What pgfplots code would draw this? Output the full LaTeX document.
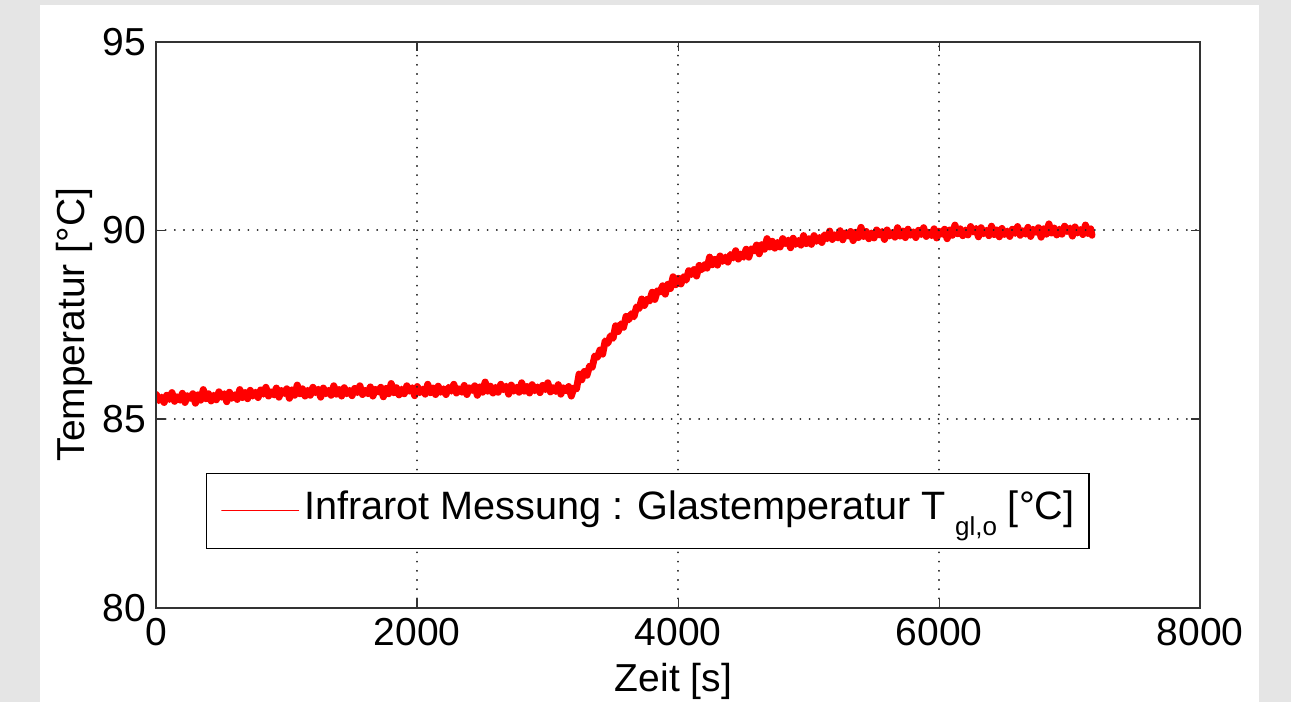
\documentclass[border=0pt]{standalone}
\usepackage{fontspec}
\setmainfont{Liberation Sans}
\usepackage{pgfplots}
\pgfplotsset{compat=1.18}
\definecolor{bggray}{RGB}{229,229,229}
\newcommand{\fs}{\fontsize{19.5}{23}\selectfont}

\begin{document}
\begin{tikzpicture}
% figure background (grey frame, white figure area)
\fill[bggray] (-78.15pt,-47.15pt) rectangle (567.35pt,303.85pt);
\fill[white] (-58.15pt,-47.15pt) rectangle (551.35pt,301.35pt);
\begin{axis}[
  at={(0pt,0pt)}, anchor=south west,
  scale only axis, width=522pt, height=283pt,
  xmin=0, xmax=8000, ymin=80, ymax=95,
  xtick={0,2000,4000,6000,8000},
  ytick={80,85,90,95},
  scaled x ticks=false,
  /pgf/number format/1000 sep={},
  /pgf/number format/assume math mode=true,
  tick label style={font=\fs},
  xticklabel style={inner sep=0pt, yshift=-5pt},
  yticklabel style={inner sep=0pt, xshift=-4.9pt},
  xmajorgrids, ymajorgrids,
  grid style={black!85, line width=0.9pt, line cap=round, dash pattern=on 0.1pt off 4.5pt},
  axis on top,
  axis line style={black!80, line width=1.1pt},
  tick style={black!80, line width=0.8pt},
  tick align=inside, major tick length=4.5pt,
  xlabel={Zeit [s]}, ylabel={Temperatur [°C]},
  label style={font=\fs},
  xlabel style={at={(axis description cs:0.4954,-0.1472)}, anchor=base, inner sep=0pt},
  ylabel style={at={(axis description cs:-0.0683,0.5)}, anchor=base, inner sep=0pt},
  legend style={at={(0.4708,0.1712)}, anchor=center, draw=black, line width=0.7pt,
    fill=white, inner xsep=7.2pt, inner ysep=0pt,
    font=\fontsize{19.8}{23}\selectfont, column sep=2.5pt,
    nodes={inner sep=0pt, text height=23.35pt, text depth=14.15pt}},
  legend image code/.code={\draw[draw=red, line width=0.7pt] (0pt,0pt) -- (38.3pt,0pt);},
]
% infrared measurement, sampled every 20 s
\addplot[red, line width=3.5pt, line join=round, line cap=round] table {
t T
0 85.65
20 85.49
40 85.58
60 85.44
80 85.63
100 85.52
120 85.70
140 85.47
160 85.59
180 85.50
200 85.68
220 85.44
240 85.62
260 85.55
280 85.67
300 85.42
320 85.64
340 85.50
360 85.78
380 85.54
400 85.67
420 85.48
440 85.63
460 85.51
480 85.72
500 85.58
520 85.67
540 85.46
560 85.71
580 85.55
600 85.64
620 85.52
640 85.78
660 85.57
680 85.70
700 85.54
720 85.76
740 85.61
760 85.71
780 85.57
800 85.77
820 85.66
840 85.84
860 85.61
880 85.72
900 85.64
920 85.82
940 85.58
960 85.76
980 85.68
1000 85.80
1020 85.55
1040 85.77
1060 85.63
1080 85.90
1100 85.67
1120 85.80
1140 85.61
1160 85.76
1180 85.63
1200 85.84
1220 85.70
1240 85.79
1260 85.58
1280 85.82
1300 85.67
1320 85.76
1340 85.63
1360 85.88
1380 85.66
1400 85.78
1420 85.61
1440 85.83
1460 85.67
1480 85.76
1500 85.62
1520 85.81
1540 85.70
1560 85.88
1580 85.65
1600 85.76
1620 85.67
1640 85.85
1660 85.61
1680 85.79
1700 85.72
1720 85.84
1740 85.59
1760 85.81
1780 85.67
1800 85.94
1820 85.70
1840 85.83
1860 85.64
1880 85.79
1900 85.67
1920 85.88
1940 85.74
1960 85.83
1980 85.62
2000 85.86
2020 85.70
2040 85.79
2060 85.66
2080 85.92
2100 85.70
2120 85.82
2140 85.65
2160 85.87
2180 85.71
2200 85.80
2220 85.65
2240 85.84
2260 85.74
2280 85.92
2300 85.69
2320 85.80
2340 85.71
2360 85.89
2380 85.65
2400 85.83
2420 85.76
2440 85.88
2460 85.63
2480 85.85
2500 85.71
2520 85.98
2540 85.74
2560 85.87
2580 85.69
2600 85.84
2620 85.71
2640 85.92
2660 85.78
2680 85.87
2700 85.66
2720 85.90
2740 85.74
2760 85.84
2780 85.71
2800 85.96
2820 85.74
2840 85.86
2860 85.69
2880 85.91
2900 85.75
2920 85.85
2940 85.70
2960 85.89
2980 85.78
3000 85.96
3020 85.72
3040 85.83
3060 85.73
3080 85.91
3100 85.66
3120 85.83
3140 85.75
3160 85.86
3180 85.61
3200 85.82
3220 85.80
3240 86.19
3260 86.04
3280 86.26
3300 86.16
3320 86.40
3340 86.37
3360 86.67
3380 86.64
3400 86.83
3420 86.72
3440 87.07
3460 87.01
3480 87.20
3500 87.14
3520 87.47
3540 87.32
3560 87.52
3580 87.43
3600 87.72
3620 87.63
3640 87.79
3660 87.71
3680 87.97
3700 87.93
3720 88.18
3740 88.01
3760 88.17
3780 88.13
3800 88.36
3820 88.17
3840 88.40
3860 88.37
3880 88.53
3900 88.31
3920 88.57
3940 88.46
3960 88.77
3980 88.56
4000 88.73
4020 88.58
4040 88.77
4060 88.68
4080 88.93
4100 88.83
4120 88.96
4140 88.79
4160 89.07
4180 88.96
4200 89.09
4220 89.00
4240 89.29
4260 89.09
4280 89.23
4300 89.08
4320 89.32
4340 89.18
4360 89.29
4380 89.16
4400 89.36
4420 89.27
4440 89.46
4460 89.24
4480 89.37
4500 89.29
4520 89.50
4540 89.29
4560 89.51
4580 89.46
4600 89.61
4620 89.38
4640 89.62
4660 89.50
4680 89.78
4700 89.56
4720 89.71
4740 89.53
4760 89.68
4780 89.56
4800 89.78
4820 89.65
4840 89.74
4860 89.54
4880 89.79
4900 89.63
4920 89.73
4940 89.61
4960 89.86
4980 89.65
5000 89.78
5020 89.63
5040 89.86
5060 89.71
5080 89.81
5100 89.68
5120 89.88
5140 89.78
5160 89.98
5180 89.76
5200 89.88
5220 89.80
5240 89.99
5260 89.75
5280 89.93
5300 89.85
5320 89.97
5340 89.73
5360 89.95
5380 89.81
5400 90.08
5420 89.84
5440 89.97
5460 89.78
5480 89.93
5500 89.80
5520 90.01
5540 89.88
5560 89.97
5580 89.76
5600 90.01
5620 89.85
5640 89.94
5660 89.82
5680 90.07
5700 89.85
5720 89.98
5740 89.81
5760 90.03
5780 89.87
5800 89.96
5820 89.81
5840 90.00
5860 89.89
5880 90.07
5900 89.84
5920 89.95
5940 89.86
5960 90.04
5980 89.80
6000 89.98
6020 89.90
6040 90.03
6060 89.78
6080 90.01
6100 89.87
6120 90.14
6140 89.91
6160 90.04
6180 89.86
6200 90.01
6220 89.88
6240 90.10
6260 89.96
6280 90.05
6300 89.83
6320 90.07
6340 89.91
6360 90.00
6380 89.86
6400 90.11
6420 89.89
6440 90.01
6460 89.83
6480 90.05
6500 89.89
6520 89.98
6540 89.84
6560 90.03
6580 89.92
6600 90.10
6620 89.87
6640 89.99
6660 89.90
6680 90.08
6700 89.84
6720 90.03
6740 89.95
6760 90.07
6780 89.82
6800 90.04
6820 89.90
6840 90.17
6860 89.93
6880 90.06
6900 89.88
6920 90.03
6940 89.90
6960 90.11
6980 89.97
7000 90.06
7020 89.85
7040 90.09
7060 89.93
7080 90.02
7100 89.89
7120 90.14
7140 89.92
7160 90.04
7170 89.87
};
\addlegendentry{Infrarot Messung : Glastemperatur T\kern4.5pt\raisebox{-8pt}{\fontsize{13}{13}\selectfont gl,o} [°C]}
\end{axis}
\end{tikzpicture}
\end{document}
